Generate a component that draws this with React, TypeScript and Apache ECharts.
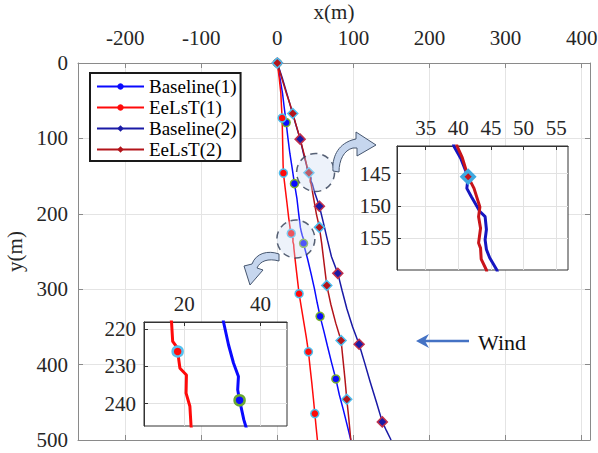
import React, { useEffect, useRef } from 'react';
import * as echarts from 'echarts';

const FONT = 'Liberation Serif';

// tick labels
const xTicks = [-200, -100, 0, 100, 200, 300, 400];
const yTicks = [0, 100, 200, 300, 400, 500];
const inset1XTicks = [35, 40, 45, 50, 55];
const inset1YTicks = [145, 150, 155];
const inset2XTicks = [20, 40];
const inset2YTicks = [220, 230, 240];

const seriesNames = ['Baseline(1)', 'EeLsT(1)', 'Baseline(2)', 'EeLsT(2)'];

// trajectories [x, y] in metres
const baseline1 = [
  [0, 0], [3.5, 20], [6.8, 40], [9.2, 60], [11.6, 79], [14.0, 100], [16.5, 120], [19.6, 140],
  [22.5, 160], [25.8, 180], [28.1, 200], [30.3, 218.1], [31.6, 224.2], [32.9, 229.1], [34.2, 232.7],
  [34.0, 236.3], [34.5, 239.1], [35.6, 244.3], [36.1, 246], [39.8, 260], [44.5, 280], [48.9, 300],
  [52.4, 318], [56.2, 336], [61.0, 355], [65.8, 375], [71.2, 397], [76.9, 419], [81.5, 440],
  [86.8, 460], [91.7, 480], [96.6, 500],
];
const baseline1Marks = [0, 79, 160, 239.1, 336, 419];

const eelst1 = [
  [0, 0], [2.5, 20], [4.6, 40], [5.6, 60], [6.3, 73], [6.8, 95], [7.2, 115], [7.6, 135], [8.0, 146],
  [10.2, 165], [12.6, 185], [14.9, 205], [16.7, 218.1], [17.0, 223.3], [18.0, 224.7], [18.3, 226],
  [18.9, 230.5], [20.6, 232.3], [20.5, 237.2], [21.5, 240.7], [21.8, 245.9], [23.9, 265], [26.3, 286],
  [28.6, 306], [31.9, 326], [35.0, 345], [38.1, 364], [40.9, 383], [43.2, 405], [45.4, 425],
  [47.4, 445], [49.3, 465], [51.0, 483], [52.7, 500],
];
const eelst1Marks = [0, 73, 146, 226, 306, 383, 465];

const baseline2 = [
  [0, 0], [6.5, 20], [12.4, 40], [18.1, 60], [23.8, 80], [30.0, 101], [34.6, 121], [38.3, 135],
  [39.3, 140.7], [40.4, 142.7], [41.5, 145.5], [41.3, 147.3], [42.0, 148.6], [43.3, 150.9],
  [44.1, 151.7], [44.3, 153.7], [44.1, 155.3], [44.3, 156.8], [44.8, 158.1], [45.9, 160],
  [49.2, 172], [55.3, 190], [60.6, 212], [65.9, 235], [71.2, 257], [79.5, 279], [85.2, 302],
  [91.4, 326], [99.0, 350], [107.5, 373], [114.9, 398], [122.1, 423], [130.3, 450], [138.0, 476],
  [143.6, 488], [149.5, 500],
];
const baseline2Marks = [0, 101, 190, 279, 373, 476];

const eelst2 = [
  [0, 0], [5.8, 20], [11.9, 40], [16.8, 55], [20.3, 67], [25.5, 85], [30.6, 103], [35.4, 122],
  [39.8, 140.7], [40.6, 142.5], [41.5, 145.5], [42.4, 147.3], [43.3, 150.2], [43.1, 151.7],
  [43.4, 153.5], [43.1, 155.8], [43.4, 156.6], [43.5, 158.3], [44.3, 160], [47.8, 180], [51.3, 200],
  [55.3, 218], [58.4, 240], [61.4, 265], [65.0, 295], [70.3, 320], [76.8, 345], [83.8, 368],
  [86.5, 395], [89.0, 420], [91.3, 446], [94.0, 472], [96.6, 500],
];
const eelst2Marks = [0, 67, 145.5, 218, 295, 368, 446];

// zoomed regions (centres of dashed circles)
const zoomCircles = [[50.3, 145.2], [24.4, 233.4]];

// axis ranges
const mainX = [-262, 411];
const mainY = [0, 500];
const inset1X = [30.6, 56.8];
const inset1Y = [140.7, 160];
const inset2X = [9.5, 46.9];
const inset2Y = [218.1, 246];

echarts.graphic.registerShape(
  'curveArrowA',
  echarts.graphic.extendPath(
    'M 333 171 C 332 158 337 145 352 140 L 356 139 L 356 132 L 376 145 L 357 156 L 357 148 L 353 148 C 344 150 339 160 339 172 Z',
    {}
  )
);
echarts.graphic.registerShape(
  'curveArrowB',
  echarts.graphic.extendPath(
    'M 279 254 C 268 250 256 253 252 264 L 244 266 L 250 285 L 263 270 L 257 268 C 260 261 268 258 279 261 Z',
    {}
  )
);

const markSize = (marks: number[], size: number) => (v: number[]) => (marks.includes(v[1]) ? size : 0);

const labelStyle = { fontSize: 21, fontFamily: FONT, color: '#262626' };

function buildOption() {
  const mainLine = (name: string, data: number[][], marks: number[], color: string, symbol: string, size: number, edge: string) => ({
    name,
    type: 'line',
    xAxisIndex: 0,
    yAxisIndex: 0,
    data,
    color,
    symbol,
    symbolSize: markSize(marks, size),
    showSymbol: true,
    showAllSymbol: true,
    lineStyle: { color, width: 1.5 },
    itemStyle: { color, borderColor: edge, borderWidth: 1.5 },
    z: 2,
    silent: true,
    clip: true,
  });
  const insetLine = (name: string, idx: number, data: number[][], marks: number[], color: string, symbol: string, size: number, edge: string, bw: number) => ({
    name,
    type: 'line',
    xAxisIndex: idx,
    yAxisIndex: idx,
    data,
    color,
    symbol,
    symbolSize: markSize(marks, size),
    showSymbol: true,
    showAllSymbol: true,
    lineStyle: { color, width: 3 },
    itemStyle: { color, borderColor: edge, borderWidth: bw },
    z: 12,
    silent: true,
    clip: true,
  });

  return {
    animation: false,
    backgroundColor: '#ffffff',
    textStyle: { fontFamily: FONT },
    grid: [
      { left: 78, top: 63, width: 512, height: 377, show: false, outerBoundsMode: 'none' },
      { left: 397, top: 146, width: 171, height: 124, show: true, backgroundColor: '#ffffff', borderColor: '#333333', borderWidth: 1, z: 10, outerBoundsMode: 'none' },
      { left: 144, top: 322, width: 143, height: 104, show: true, backgroundColor: '#ffffff', borderColor: '#333333', borderWidth: 1, z: 10, outerBoundsMode: 'none' },
    ],
    xAxis: [
      {
        type: 'value', gridIndex: 0, position: 'top', min: mainX[0], max: mainX[1],
        name: 'x(m)', nameLocation: 'middle', nameGap: 35, nameTextStyle: labelStyle,
        axisLine: { show: true, onZero: false, lineStyle: { color: '#8a8a8a', width: 1 } },
        axisTick: { show: true, inside: true, length: 5, customValues: xTicks, lineStyle: { color: '#8a8a8a' } },
        axisLabel: { show: true, customValues: xTicks, margin: 15, ...labelStyle },
        splitLine: { show: true, lineStyle: { color: '#e4e4e4', width: 1 } },
      },
      {
        type: 'value', gridIndex: 0, position: 'bottom', min: mainX[0], max: mainX[1],
        axisLine: { show: true, onZero: false, lineStyle: { color: '#8a8a8a', width: 1 } },
        axisTick: { show: true, inside: true, length: 5, customValues: xTicks, lineStyle: { color: '#8a8a8a' } },
        axisLabel: { show: false },
        splitLine: { show: false },
      },
      {
        type: 'value', gridIndex: 1, position: 'top', min: inset1X[0], max: inset1X[1], z: 11,
        axisLine: { show: true, onZero: false, lineStyle: { color: '#333333', width: 1 } },
        axisTick: { show: true, inside: true, length: 4, customValues: inset1XTicks, lineStyle: { color: '#333333' } },
        axisLabel: { show: true, customValues: inset1XTicks, margin: 8, ...labelStyle },
        splitLine: { show: true, lineStyle: { color: '#e2e2e2', width: 1 } },
      },
      {
        type: 'value', gridIndex: 2, position: 'top', min: inset2X[0], max: inset2X[1], splitNumber: 2, z: 11,
        axisLine: { show: true, onZero: false, lineStyle: { color: '#333333', width: 1 } },
        axisTick: { show: true, inside: true, length: 4, customValues: inset2XTicks, lineStyle: { color: '#333333' } },
        axisLabel: { show: true, customValues: inset2XTicks, margin: 8, ...labelStyle },
        splitLine: { show: true, lineStyle: { color: '#e2e2e2', width: 1 } },
      },
    ],
    yAxis: [
      {
        type: 'value', gridIndex: 0, position: 'left', inverse: true, min: mainY[0], max: mainY[1], interval: 100,
        name: 'y(m)', nameLocation: 'middle', nameRotate: 90, nameGap: 44, nameTextStyle: labelStyle,
        axisLine: { show: true, onZero: false, lineStyle: { color: '#8a8a8a', width: 1 } },
        axisTick: { show: true, inside: true, length: 5, customValues: yTicks, lineStyle: { color: '#8a8a8a' } },
        axisLabel: { show: true, customValues: yTicks, margin: 10, ...labelStyle },
        splitLine: { show: true, lineStyle: { color: '#e4e4e4', width: 1 } },
      },
      {
        type: 'value', gridIndex: 0, position: 'right', inverse: true, min: mainY[0], max: mainY[1], interval: 100,
        axisLine: { show: true, onZero: false, lineStyle: { color: '#8a8a8a', width: 1 } },
        axisTick: { show: true, inside: true, length: 5, customValues: yTicks, lineStyle: { color: '#8a8a8a' } },
        axisLabel: { show: false },
        splitLine: { show: false },
      },
      {
        type: 'value', gridIndex: 1, position: 'left', inverse: true, min: inset1Y[0], max: inset1Y[1], splitNumber: 4, z: 11,
        axisLine: { show: true, onZero: false, lineStyle: { color: '#333333', width: 1 } },
        axisTick: { show: true, inside: true, length: 4, customValues: inset1YTicks, lineStyle: { color: '#333333' } },
        axisLabel: { show: true, customValues: inset1YTicks, margin: 6, ...labelStyle },
        splitLine: { show: true, lineStyle: { color: '#e2e2e2', width: 1 } },
      },
      {
        type: 'value', gridIndex: 2, position: 'left', inverse: true, min: inset2Y[0], max: inset2Y[1], splitNumber: 3, z: 11,
        axisLine: { show: true, onZero: false, lineStyle: { color: '#333333', width: 1 } },
        axisTick: { show: true, inside: true, length: 4, customValues: inset2YTicks, lineStyle: { color: '#333333' } },
        axisLabel: { show: true, customValues: inset2YTicks, margin: 8, ...labelStyle },
        splitLine: { show: true, lineStyle: { color: '#e2e2e2', width: 1 } },
      },
    ],
    legend: {
      data: seriesNames,
      orient: 'vertical',
      left: 90,
      top: 73,
      backgroundColor: '#ffffff',
      borderColor: '#1a1a1a',
      borderWidth: 2,
      borderRadius: 0,
      padding: [4, 4, 2, 6],
      itemGap: 2,
      itemWidth: 47,
      itemHeight: 8,
      itemStyle: { borderWidth: 0 },
      textStyle: { fontSize: 19, fontFamily: FONT, color: '#000000' },
      selectedMode: false,
      z: 6,
    },
    series: [
      mainLine('Baseline(1)', baseline1, baseline1Marks, '#0a0aff', 'circle', 8, '#77ac30'),
      mainLine('EeLsT(1)', eelst1, eelst1Marks, '#ff0a0a', 'circle', 8, '#4dbeee'),
      mainLine('Baseline(2)', baseline2, baseline2Marks, '#1a1aa6', 'diamond', 10, '#c0304a'),
      mainLine('EeLsT(2)', eelst2, eelst2Marks, '#b3141a', 'diamond', 10, '#4dbeee'),
      {
        name: 'zoom regions',
        type: 'scatter',
        xAxisIndex: 0,
        yAxisIndex: 0,
        data: zoomCircles,
        symbol: 'circle',
        symbolSize: 38,
        itemStyle: { color: 'rgba(205,218,242,0.45)', borderColor: '#2e3b52', borderWidth: 1.5, borderType: [7, 5] },
        z: 3,
        silent: true,
      },
      insetLine('Baseline(2) zoom', 2, baseline2, [], '#1616c0', 'diamond', 12, '#3fa9e0', 3),
      insetLine('EeLsT(2) zoom', 2, eelst2, [145.5], '#c8141a', 'diamond', 12, '#3fa9e0', 3.5),
      insetLine('Baseline(1) zoom', 3, baseline1, [239.1], '#0a0aff', 'circle', 10, '#6aa832', 2.5),
      insetLine('EeLsT(1) zoom', 3, eelst1, [226], '#ff0a0a', 'circle', 10, '#56c0ee', 2.5),
    ],
    graphic: [
      { type: 'curveArrowA', x: 0, y: 0, z: 20, silent: true, style: { fill: '#c6d6ee', stroke: '#46566f', lineWidth: 1 } },
      { type: 'curveArrowB', x: 0, y: 0, z: 20, silent: true, style: { fill: '#c6d6ee', stroke: '#46566f', lineWidth: 1 } },
      { type: 'line', z: 20, silent: true, shape: { x1: 469, y1: 341, x2: 422, y2: 341 }, style: { stroke: '#4472c4', lineWidth: 2.5 } },
      { type: 'polygon', z: 20, silent: true, shape: { points: [[416, 341], [429, 334], [425, 341], [429, 348]] }, style: { fill: '#4472c4' } },
      { type: 'text', z: 20, silent: true, x: 478, y: 342, style: { text: 'Wind', fontSize: 22, fontFamily: FONT, fill: '#111111', verticalAlign: 'middle', align: 'left' } },
    ],
  };
}

export default function App() {
  const ref = useRef<HTMLDivElement>(null);
  useEffect(() => {
    if (!ref.current) return;
    const chart = echarts.init(ref.current, null, { renderer: 'svg' });
    chart.setOption(buildOption() as any);
    return () => chart.dispose();
  }, []);
  return (
    <div
      ref={ref}
      style={{ position: 'fixed', left: 0, top: 0, width: 598, height: 453, background: '#ffffff' }}
    />
  );
}
